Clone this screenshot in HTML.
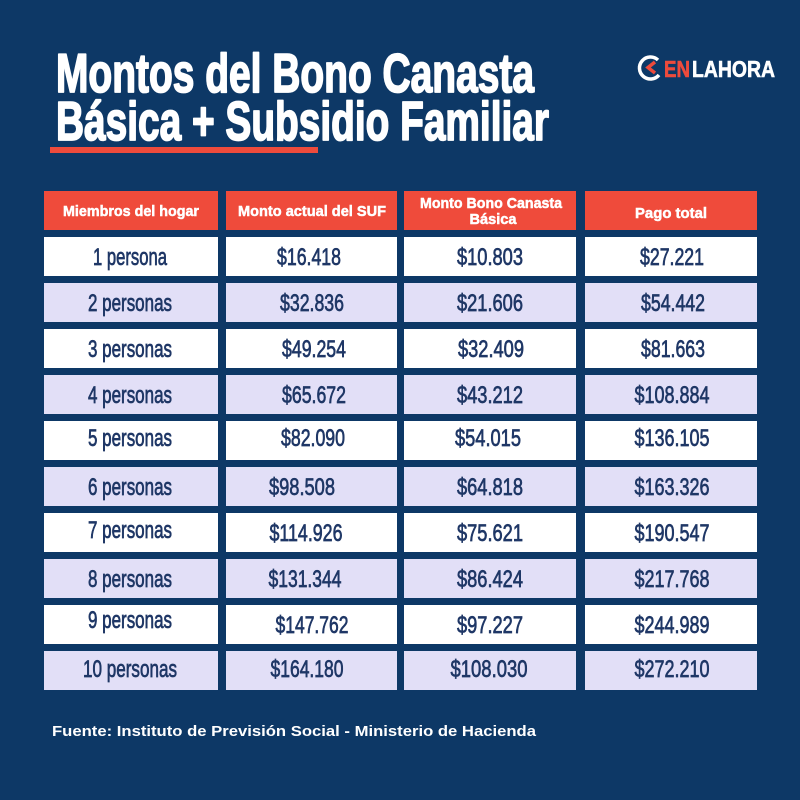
<!DOCTYPE html>
<html><head><meta charset="utf-8"><style>
html,body{margin:0;padding:0;background:#0d3866;}
svg{display:block}
text{font-family:"Liberation Sans Narrow","Liberation Sans",sans-serif;}
</style></head><body>
<svg width="800" height="800" viewBox="0 0 800 800" xmlns="http://www.w3.org/2000/svg">
<rect width="800" height="800" fill="#0d3866"/>
<g font-weight="bold" fill="#fff" stroke="#fff" stroke-width="1.8" stroke-linejoin="round" font-size="55">
<text x="56" y="92" textLength="478" lengthAdjust="spacingAndGlyphs">Montos del Bono Canasta</text>
<text x="56" y="140" textLength="493" lengthAdjust="spacingAndGlyphs">Básica + Subsidio Familiar</text>
</g>
<rect x="50" y="147" width="268" height="6" fill="#ee4b3c"/>
<g>
<path d="M658 60 A11 11 0 1 0 659 75" fill="none" stroke="#fff" stroke-width="3.5"/>
<path d="M655 62 L648 67.5 L655 73" fill="none" stroke="#ee4b3c" stroke-width="3.5"/>
<text x="664" y="77" font-size="23" font-weight="bold" fill="#ee4b3c" stroke="#ee4b3c" stroke-width="0.6" textLength="26" lengthAdjust="spacingAndGlyphs">EN</text>
<text x="692" y="77" font-size="23" font-weight="bold" fill="#fff" stroke="#fff" stroke-width="0.6" textLength="83" lengthAdjust="spacingAndGlyphs">LAHORA</text>
</g>
<g fill="#ef4b3b">
<rect x="44" y="191" width="174" height="39"/>
<rect x="226" y="191" width="171" height="39"/>
<rect x="404" y="191" width="172" height="39"/>
<rect x="585" y="191" width="172" height="39"/>
</g>
<g fill="#fff" stroke="#fff" stroke-width="0.5" font-weight="bold" font-size="15" text-anchor="middle">
<text x="131" y="216" textLength="136" lengthAdjust="spacingAndGlyphs">Miembros del hogar</text>
<text x="312" y="216" textLength="148" lengthAdjust="spacingAndGlyphs">Monto actual del SUF</text>
<text x="491" y="208" textLength="142" lengthAdjust="spacingAndGlyphs">Monto Bono Canasta</text>
<text x="493" y="224" textLength="47" lengthAdjust="spacingAndGlyphs">Básica</text>
<text x="671" y="218" textLength="72" lengthAdjust="spacingAndGlyphs">Pago total</text>
</g>
<g>
<g fill="#ffffff"><rect x="44" y="237" width="174" height="39"/><rect x="226" y="237" width="171" height="39"/><rect x="404" y="237" width="172" height="39"/><rect x="585" y="237" width="172" height="39"/></g>
<g fill="#e2dff7"><rect x="44" y="283" width="174" height="39"/><rect x="226" y="283" width="171" height="39"/><rect x="404" y="283" width="172" height="39"/><rect x="585" y="283" width="172" height="39"/></g>
<g fill="#ffffff"><rect x="44" y="329" width="174" height="39"/><rect x="226" y="329" width="171" height="39"/><rect x="404" y="329" width="172" height="39"/><rect x="585" y="329" width="172" height="39"/></g>
<g fill="#e2dff7"><rect x="44" y="375" width="174" height="39"/><rect x="226" y="375" width="171" height="39"/><rect x="404" y="375" width="172" height="39"/><rect x="585" y="375" width="172" height="39"/></g>
<g fill="#ffffff"><rect x="44" y="421" width="174" height="39"/><rect x="226" y="421" width="171" height="39"/><rect x="404" y="421" width="172" height="39"/><rect x="585" y="421" width="172" height="39"/></g>
<g fill="#e2dff7"><rect x="44" y="467" width="174" height="39"/><rect x="226" y="467" width="171" height="39"/><rect x="404" y="467" width="172" height="39"/><rect x="585" y="467" width="172" height="39"/></g>
<g fill="#ffffff"><rect x="44" y="513" width="174" height="39"/><rect x="226" y="513" width="171" height="39"/><rect x="404" y="513" width="172" height="39"/><rect x="585" y="513" width="172" height="39"/></g>
<g fill="#e2dff7"><rect x="44" y="559" width="174" height="39"/><rect x="226" y="559" width="171" height="39"/><rect x="404" y="559" width="172" height="39"/><rect x="585" y="559" width="172" height="39"/></g>
<g fill="#ffffff"><rect x="44" y="605" width="174" height="39"/><rect x="226" y="605" width="171" height="39"/><rect x="404" y="605" width="172" height="39"/><rect x="585" y="605" width="172" height="39"/></g>
<g fill="#e2dff7"><rect x="44" y="651" width="174" height="39"/><rect x="226" y="651" width="171" height="39"/><rect x="404" y="651" width="172" height="39"/><rect x="585" y="651" width="172" height="39"/></g>
</g>
<g fill="#1f3766" stroke="#1f3766" stroke-width="0.7" font-size="24" text-anchor="middle">
<text x="130" y="265" textLength="74" lengthAdjust="spacingAndGlyphs">1 persona</text>
<text x="130" y="311" textLength="84" lengthAdjust="spacingAndGlyphs">2 personas</text>
<text x="130" y="357" textLength="84" lengthAdjust="spacingAndGlyphs">3 personas</text>
<text x="130" y="403" textLength="84" lengthAdjust="spacingAndGlyphs">4 personas</text>
<text x="130" y="446" textLength="84" lengthAdjust="spacingAndGlyphs">5 personas</text>
<text x="130" y="495" textLength="84" lengthAdjust="spacingAndGlyphs">6 personas</text>
<text x="130" y="538" textLength="84" lengthAdjust="spacingAndGlyphs">7 personas</text>
<text x="130" y="587" textLength="84" lengthAdjust="spacingAndGlyphs">8 personas</text>
<text x="130" y="628" textLength="84" lengthAdjust="spacingAndGlyphs">9 personas</text>
<text x="130" y="677" textLength="94" lengthAdjust="spacingAndGlyphs">10 personas</text>

<text x="309" y="265" textLength="64" lengthAdjust="spacingAndGlyphs">$16.418</text>
<text x="312" y="311" textLength="64" lengthAdjust="spacingAndGlyphs">$32.836</text>
<text x="314" y="357" textLength="64" lengthAdjust="spacingAndGlyphs">$49.254</text>
<text x="314" y="403" textLength="64" lengthAdjust="spacingAndGlyphs">$65.672</text>
<text x="313" y="446" textLength="64" lengthAdjust="spacingAndGlyphs">$82.090</text>
<text x="302" y="495" textLength="66" lengthAdjust="spacingAndGlyphs">$98.508</text>
<text x="306" y="541" textLength="73" lengthAdjust="spacingAndGlyphs">$114.926</text>
<text x="305" y="587" textLength="73" lengthAdjust="spacingAndGlyphs">$131.344</text>
<text x="312" y="633" textLength="73" lengthAdjust="spacingAndGlyphs">$147.762</text>
<text x="307" y="677" textLength="73" lengthAdjust="spacingAndGlyphs">$164.180</text>

<text x="490" y="265" textLength="66" lengthAdjust="spacingAndGlyphs">$10.803</text>
<text x="490" y="311" textLength="66" lengthAdjust="spacingAndGlyphs">$21.606</text>
<text x="491" y="357" textLength="66" lengthAdjust="spacingAndGlyphs">$32.409</text>
<text x="490" y="403" textLength="66" lengthAdjust="spacingAndGlyphs">$43.212</text>
<text x="488" y="446" textLength="66" lengthAdjust="spacingAndGlyphs">$54.015</text>
<text x="490" y="495" textLength="66" lengthAdjust="spacingAndGlyphs">$64.818</text>
<text x="490" y="541" textLength="66" lengthAdjust="spacingAndGlyphs">$75.621</text>
<text x="490" y="587" textLength="66" lengthAdjust="spacingAndGlyphs">$86.424</text>
<text x="490" y="633" textLength="66" lengthAdjust="spacingAndGlyphs">$97.227</text>
<text x="489" y="677" textLength="77" lengthAdjust="spacingAndGlyphs">$108.030</text>

<text x="672" y="265" textLength="64" lengthAdjust="spacingAndGlyphs">$27.221</text>
<text x="673" y="311" textLength="64" lengthAdjust="spacingAndGlyphs">$54.442</text>
<text x="673" y="357" textLength="64" lengthAdjust="spacingAndGlyphs">$81.663</text>
<text x="672" y="403" textLength="75" lengthAdjust="spacingAndGlyphs">$108.884</text>
<text x="672" y="446" textLength="75" lengthAdjust="spacingAndGlyphs">$136.105</text>
<text x="672" y="495" textLength="75" lengthAdjust="spacingAndGlyphs">$163.326</text>
<text x="672" y="541" textLength="75" lengthAdjust="spacingAndGlyphs">$190.547</text>
<text x="672" y="587" textLength="75" lengthAdjust="spacingAndGlyphs">$217.768</text>
<text x="672" y="633" textLength="75" lengthAdjust="spacingAndGlyphs">$244.989</text>
<text x="672" y="677" textLength="75" lengthAdjust="spacingAndGlyphs">$272.210</text>
</g>
<text x="52" y="736" style="font-family:'Liberation Sans',sans-serif" font-size="15" font-weight="bold" fill="#fff" textLength="484" lengthAdjust="spacingAndGlyphs">Fuente: Instituto de Previsión Social - Ministerio de Hacienda</text>
</svg>
</body></html>
